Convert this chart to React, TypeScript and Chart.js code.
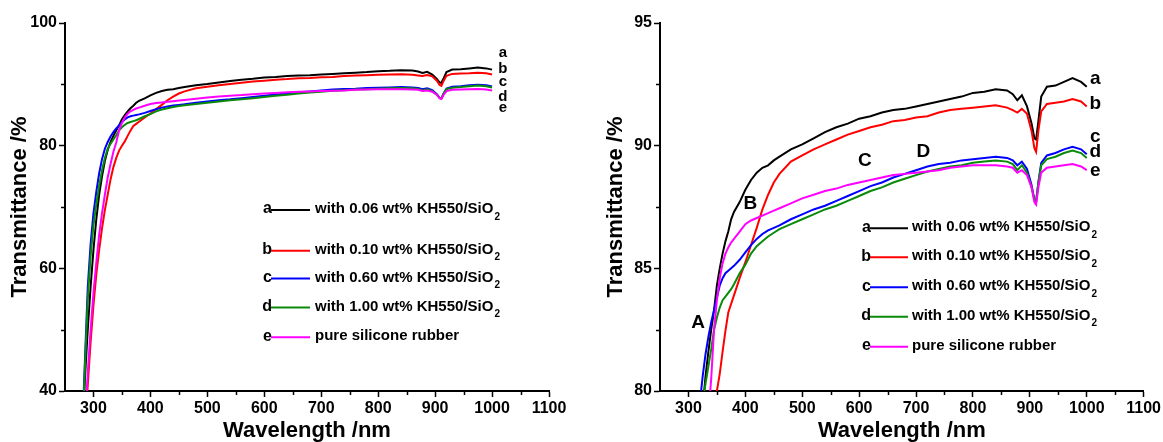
import React, { useEffect, useRef } from 'react';
import { Chart, registerables } from 'chart.js';

Chart.register(...registerables);

// ---- data ----
const wavelengths = [
  280, 285, 290, 295, 300, 305, 310, 315, 320, 325,
  330, 335, 340, 345, 350, 355, 360, 365, 370, 375,
  380, 390, 400, 410, 420, 430, 440, 450, 460, 480,
  500, 520, 540, 560, 580, 600, 620, 640, 660, 680,
  700, 720, 740, 760, 780, 800, 820, 840, 860, 870,
  878, 886, 895, 903, 908, 911, 915, 920, 930, 945,
  960, 975, 990, 1000,
];

const seriesA = [
  30, 42, 50, 57, 63, 68, 72, 75, 77.5, 79.3,
  80.6, 81.6, 82.5, 83.3, 84.3, 85.0, 85.6, 86.1, 86.5, 87.0,
  87.3, 87.7, 88.2, 88.6, 88.9, 89.1, 89.2, 89.4, 89.55, 89.85,
  90.05, 90.3, 90.55, 90.75, 90.9, 91.1, 91.2, 91.35, 91.45, 91.5,
  91.6, 91.7, 91.8, 91.9, 92.0, 92.15, 92.2, 92.3, 92.25, 92.1,
  91.85, 92.05, 91.6, 90.9, 90.3, 90.25, 91.0, 92.0, 92.4, 92.45,
  92.6, 92.75, 92.6, 92.4,
];

const seriesB = [
  25, 34, 41, 48, 54, 59, 63, 66.5, 69.5, 72,
  74.5, 76.5, 78, 79.2, 80.0, 80.7, 81.6, 82.45, 83.2, 83.55,
  83.9, 84.6, 85.25, 85.95, 86.65, 87.4, 88.0, 88.5, 88.85, 89.35,
  89.6, 89.85, 90.05, 90.25, 90.45, 90.6, 90.75, 90.85, 91.0, 91.05,
  91.15, 91.2, 91.35, 91.45, 91.5, 91.55, 91.6, 91.65, 91.55, 91.45,
  91.35, 91.5, 91.3, 90.6, 89.9, 89.75, 90.6, 91.4, 91.7, 91.75,
  91.8, 91.9, 91.8, 91.6,
];

const seriesC = [
  33, 45, 57, 64, 69, 72.5, 75.5, 77.8, 79.5, 80.6,
  81.5, 82.2, 82.8, 83.3, 83.8, 84.3, 84.6, 84.8, 84.9, 85.0,
  85.1, 85.35, 85.65, 85.95, 86.2, 86.4, 86.55, 86.65, 86.75, 87.0,
  87.2, 87.4, 87.55, 87.75, 87.95, 88.15, 88.35, 88.5, 88.7, 88.85,
  89.0, 89.15, 89.25, 89.3, 89.4, 89.45, 89.5, 89.55, 89.5, 89.4,
  89.2, 89.35, 89.05, 88.4, 87.8, 87.7, 88.5, 89.3, 89.6, 89.7,
  89.85, 89.95, 89.85, 89.65,
];

const seriesD = [
  32, 44, 55, 62, 67, 70.5, 73.5, 76, 78, 79.5,
  80.3, 81.0, 81.7, 82.5, 83.0, 83.4, 83.7, 83.85, 84.0, 84.15,
  84.35, 84.8, 85.15, 85.6, 85.9, 86.1, 86.3, 86.45, 86.6, 86.8,
  87.0, 87.2, 87.4, 87.55, 87.75, 87.95, 88.15, 88.3, 88.5, 88.65,
  88.8, 88.95, 89.05, 89.15, 89.2, 89.3, 89.35, 89.4, 89.35, 89.25,
  89.0, 89.2, 88.9, 88.3, 87.8, 87.75, 88.5, 89.2, 89.45, 89.55,
  89.7, 89.8, 89.7, 89.5,
];

const seriesE = [
  25, 35, 43, 50, 56, 61, 65.5, 69, 72, 74.8,
  77, 79, 80.5, 82.5, 83.7, 84.6, 85.2, 85.6, 85.85, 86.05,
  86.2, 86.5, 86.8, 86.95, 87.05, 87.15, 87.25, 87.35, 87.45, 87.65,
  87.85, 88.0, 88.15, 88.25, 88.4, 88.5, 88.6, 88.7, 88.8, 88.85,
  88.9, 88.95, 89.0, 89.1, 89.15, 89.2, 89.2, 89.2, 89.15, 89.1,
  88.9, 89.0, 88.8, 88.3, 87.7, 87.6, 88.3, 88.9, 89.1, 89.15,
  89.2, 89.25, 89.15, 89.0,
];

const seriesValues = [seriesA, seriesB, seriesC, seriesD, seriesE];
const seriesLetters = ['a', 'b', 'c', 'd', 'e'];
const legendTexts = [
  'with 0.06 wt% KH550/SiO',
  'with 0.10 wt% KH550/SiO',
  'with 0.60 wt% KH550/SiO',
  'with 1.00 wt% KH550/SiO',
  'pure silicone rubber',
];
const legendSubscripts = ['2', '2', '2', '2', ''];
const seriesColors = ['#000000', '#ff0000', '#0000ff', '#0a8a0a', '#ff00ff'];

const xTitle = 'Wavelength /nm';
const yTitle = 'Transmittance /%';

// end-of-curve letter positions (data coordinates)
const leftEndLabelX = 1019;
const leftEndLabelY = [95.1, 92.6, 90.4, 88.0, 86.1];
const rightEndLabelX = 1015;
const rightEndLabelY = [92.72, 91.7, 90.36, 89.75, 88.98];

// region annotations on right chart
const regionLabels = ['A', 'B', 'C', 'D'];
const regionX = [317, 409, 610, 713];
const regionY = [82.78, 87.65, 89.37, 89.75];

const FONT = "'Liberation Sans', Arial, Helvetica, sans-serif";

type PanelCfg = {
  width: number;
  yMin: number;
  yMax: number;
  yStep: number;
  yMajor: number;
  yWidth: number;
  padRight: number;
  yTitlePad: number;
  legendRows: number[];
  legendLetterRight: number;
  legendLineEnd: number;
  legendTextX: number;
  endLabelX: number;
  endLabelY: number[];
  endLabelSize: number;
  regions: boolean;
};

function overlayPlugin(cfg: PanelCfg) {
  return {
    id: 'overlay',
    afterDraw(chart: any) {
      const ctx: CanvasRenderingContext2D = chart.ctx;
      const xs = chart.scales.x;
      const ys = chart.scales.y;
      const area = chart.chartArea;
      ctx.save();
      // minor ticks
      ctx.strokeStyle = '#000';
      ctx.lineWidth = 1.5;
      xs.ticks.forEach((t: any) => {
        if (t.value % 100 !== 0 && t.value !== xs.min) {
          const px = Math.round(xs.getPixelForValue(t.value)) + 0.5;
          ctx.beginPath();
          ctx.moveTo(px, area.bottom);
          ctx.lineTo(px, area.bottom + 4);
          ctx.stroke();
        }
      });
      ys.ticks.forEach((t: any) => {
        if (Math.abs(t.value % cfg.yMajor) > 1e-6) {
          const py = Math.round(ys.getPixelForValue(t.value)) + 0.5;
          ctx.beginPath();
          ctx.moveTo(area.left, py);
          ctx.lineTo(area.left - 4, py);
          ctx.stroke();
        }
      });

      // legend
      ctx.textBaseline = 'middle';
      cfg.legendRows.forEach((ry, i) => {
        ctx.fillStyle = '#000';
        ctx.font = `bold 16px ${FONT}`;
        ctx.textAlign = 'right';
        ctx.fillText(seriesLetters[i], cfg.legendLetterRight, ry - 1);
        ctx.strokeStyle = seriesColors[i];
        ctx.lineWidth = 2;
        ctx.beginPath();
        ctx.moveTo(cfg.legendLetterRight - 1, ry);
        ctx.lineTo(cfg.legendLineEnd, ry);
        ctx.stroke();
        ctx.textAlign = 'left';
        ctx.font = `bold 15px ${FONT}`;
        ctx.fillText(legendTexts[i], cfg.legendTextX, ry - 1);
        if (legendSubscripts[i]) {
          const w = ctx.measureText(legendTexts[i]).width;
          ctx.font = `bold 10px ${FONT}`;
          ctx.fillText(legendSubscripts[i], cfg.legendTextX + w + 1, ry + 7);
        }
      });

      // end labels
      ctx.fillStyle = '#000';
      ctx.textAlign = 'center';
      ctx.font = `bold ${cfg.endLabelSize}px ${FONT}`;
      cfg.endLabelY.forEach((v, i) => {
        ctx.fillText(seriesLetters[i], xs.getPixelForValue(cfg.endLabelX), ys.getPixelForValue(v));
      });

      if (cfg.regions) {
        ctx.font = `bold 19px ${FONT}`;
        regionLabels.forEach((l, i) => {
          ctx.fillText(l, xs.getPixelForValue(regionX[i]), ys.getPixelForValue(regionY[i]));
        });
      }
      ctx.restore();
    },
  };
}

function Panel({ cfg }: { cfg: PanelCfg }) {
  const ref = useRef<HTMLCanvasElement | null>(null);
  useEffect(() => {
    if (!ref.current) return;
    const order = [4, 3, 2, 1, 0];
    const datasets = seriesValues.map((vals, si) => ({
      label: seriesLetters[si],
      data: wavelengths.map((w, i) => ({ x: w, y: vals[i] })),
      borderColor: seriesColors[si],
      backgroundColor: seriesColors[si],
      borderWidth: 2,
      pointRadius: 0,
      tension: 0,
      fill: false,
      order: order[si],
    }));
    const tickFont = { family: FONT, size: 16, weight: 'bold' as const };
    const titleFont = { family: FONT, size: 22, weight: 'bold' as const, lineHeight: 1 };
    const chart = new Chart(ref.current, {
      type: 'line',
      data: { datasets },
      options: {
        responsive: false,
        animation: false,
        devicePixelRatio: 1,
        layout: { padding: { left: 0, top: 23, right: cfg.padRight, bottom: 0 } },
        plugins: { legend: { display: false }, tooltip: { enabled: false } },
        scales: {
          x: {
            type: 'linear',
            min: 250,
            max: 1100,
            afterFit: (s: any) => {
              s.height = 51;
            },
            border: { display: true, color: '#000', width: 2 },
            grid: {
              display: true,
              drawOnChartArea: false,
              drawTicks: true,
              tickLength: 6,
              tickWidth: 1.5,
              tickColor: (c: any) =>
                c.tick && c.tick.value % 100 === 0 ? '#000' : 'rgba(0,0,0,0)',
            },
            ticks: {
              stepSize: 50,
              autoSkip: false,
              maxRotation: 0,
              minRotation: 0,
              padding: 2,
              color: '#000',
              font: tickFont,
              callback: (v: any) => (Number(v) % 100 === 0 ? String(v) : ''),
            },
            title: {
              display: true,
              text: xTitle,
              color: '#000',
              font: titleFont,
              padding: { top: 0, bottom: 0 },
            },
          },
          y: {
            type: 'linear',
            min: cfg.yMin,
            max: cfg.yMax,
            afterFit: (s: any) => {
              s.width = cfg.yWidth;
            },
            border: { display: true, color: '#000', width: 2 },
            grid: {
              display: true,
              drawOnChartArea: false,
              drawTicks: true,
              tickLength: 6,
              tickWidth: 1.5,
              tickColor: (c: any) =>
                c.tick && Math.abs(c.tick.value % cfg.yMajor) < 1e-6 ? '#000' : 'rgba(0,0,0,0)',
            },
            ticks: {
              stepSize: cfg.yStep,
              autoSkip: false,
              padding: 2,
              color: '#000',
              font: tickFont,
              callback: (v: any) =>
                Math.abs(Number(v) % cfg.yMajor) < 1e-6 ? String(v) : '',
            },
            title: {
              display: true,
              text: yTitle,
              color: '#000',
              font: titleFont,
              padding: { top: cfg.yTitlePad, bottom: 0 },
            },
          },
        },
      },
      plugins: [overlayPlugin(cfg)],
    });
    return () => chart.destroy();
  }, [cfg]);
  return <canvas ref={ref} width={cfg.width} height={442} style={{ display: 'block' }} />;
}

const leftCfg: PanelCfg = {
  width: 580,
  yMin: 40,
  yMax: 100,
  yStep: 10,
  yMajor: 20,
  yWidth: 65,
  padRight: 31,
  yTitlePad: 9,
  legendRows: [210, 250.7, 278.5, 307.5, 337.3],
  legendLetterRight: 272,
  legendLineEnd: 310,
  legendTextX: 315,
  endLabelX: leftEndLabelX,
  endLabelY: leftEndLabelY,
  endLabelSize: 15,
  regions: false,
};

const rightCfg: PanelCfg = {
  width: 583,
  yMin: 80,
  yMax: 95,
  yStep: 2.5,
  yMajor: 5,
  yWidth: 80,
  padRight: 19,
  yTitlePad: 25,
  legendRows: [228.3, 257.3, 287.3, 316.7, 346.7],
  legendLetterRight: 291,
  legendLineEnd: 328,
  legendTextX: 332,
  endLabelX: rightEndLabelX,
  endLabelY: rightEndLabelY,
  endLabelSize: 19,
  regions: true,
};

export default function App() {
  return (
    <div
      style={{
        position: 'fixed',
        left: 0,
        top: 0,
        width: 1163,
        height: 442,
        background: '#fff',
        display: 'flex',
      }}
    >
      <Panel cfg={leftCfg} />
      <Panel cfg={rightCfg} />
    </div>
  );
}
